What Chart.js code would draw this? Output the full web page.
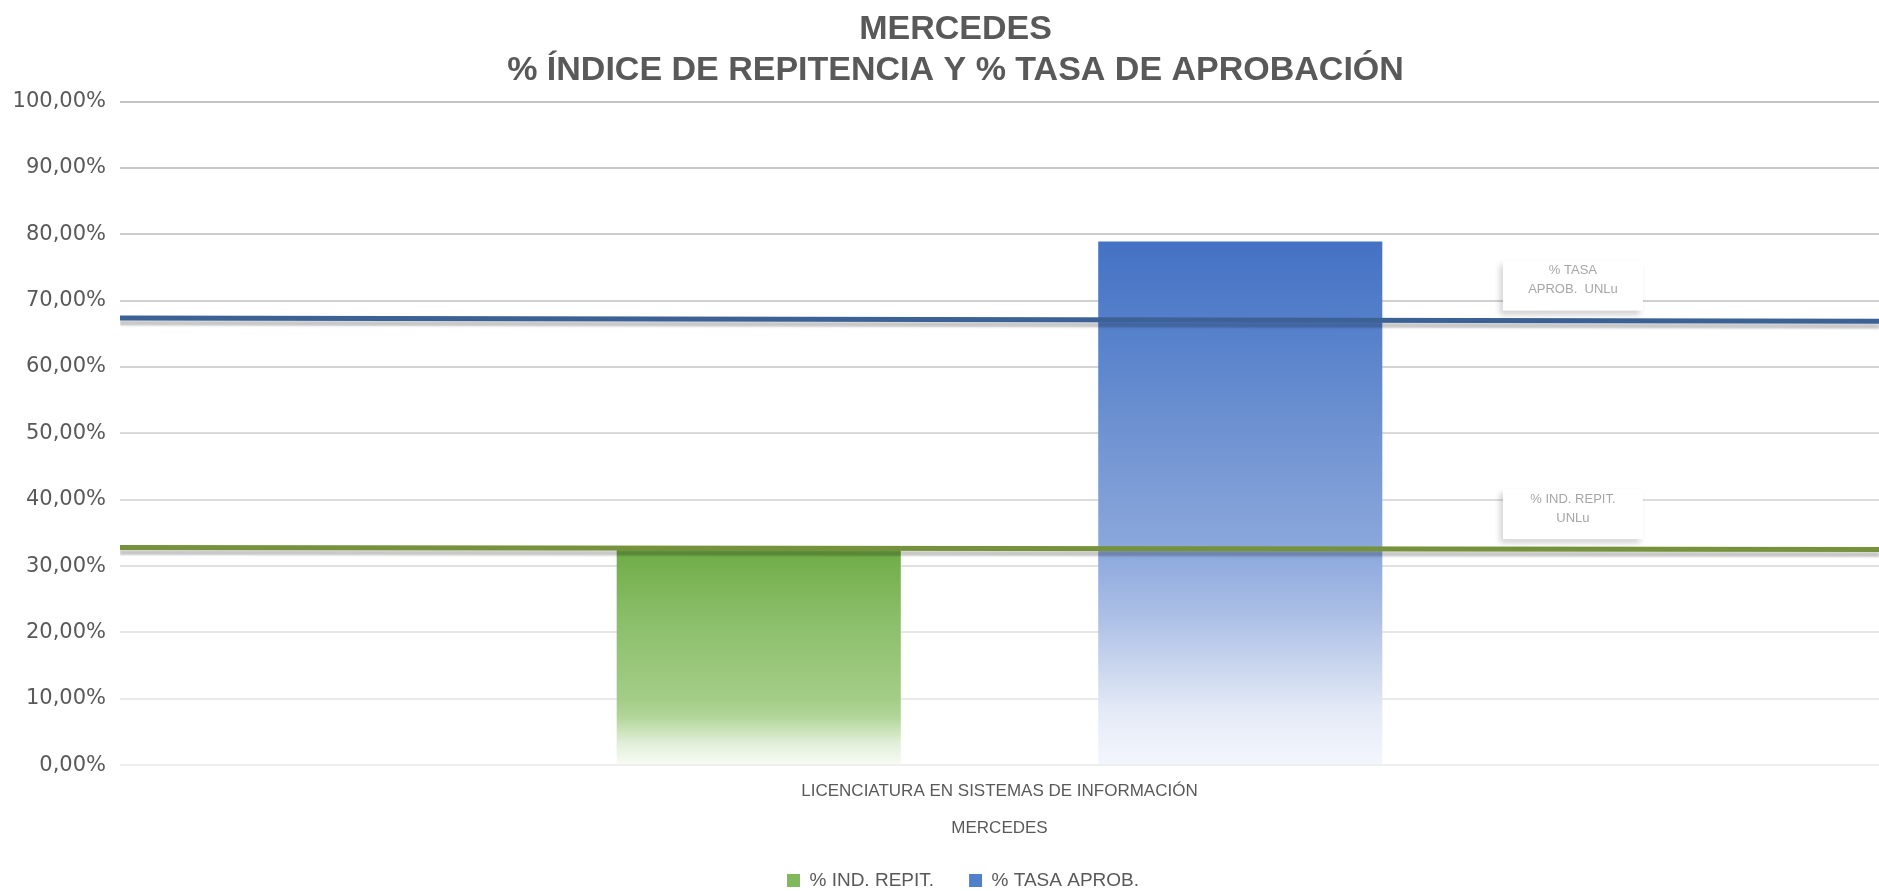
<!DOCTYPE html>
<html>
<head>
<meta charset="utf-8">
<script src="https://cdn.jsdelivr.net/npm/chart.js@4"></script>
<style>
  body { margin: 0; background: #ffffff; }
  #wrap { width: 1879px; height: 891px; }
</style>
</head>
<body>
<div id="wrap"><canvas id="chart" width="1879" height="891"></canvas></div>
<script>
const categories = ['LICENCIATURA EN SISTEMAS DE INFORMACIÓN'];
const seriesNames = ['% IND. REPIT.', '% TASA APROB.'];
const repitValues = [32.9];
const aprobValues = [78.9];
// reference lines (left end, right end)
const unluRepit = [32.8, 32.5];
const unluAprob = [67.4, 66.9];
const noteRepit = ['% IND. REPIT.', 'UNLu'];
const noteAprob = ['% TASA', 'APROB.  UNLu'];
const titleLines = ['MERCEDES', '% ÍNDICE DE REPITENCIA Y % TASA DE APROBACIÓN'];
const xTitle = 'MERCEDES';

const greenStops = [[0, '#f8fbf5'], [0.1, '#e2efd9'], [0.22, '#b2d69a'], [0.3, '#a3cd87'], [0.65, '#8cbf6b'], [1, '#6eab45']];
const blueStops = [[0, '#f3f6fc'], [0.1, '#e5ebf7'], [0.18, '#ccd8ef'], [0.28, '#adc0e6'], [0.4, '#8da9dd'], [0.6, '#7496d3'], [0.8, '#5983cc'], [1, '#4472c4']];

function barGradient(stops, solid) {
    return function(ctx) {
        const chart = ctx.chart;
        if (!chart.chartArea || ctx.raw === undefined) return solid;
        const y = chart.scales.y;
        const top = y.getPixelForValue(ctx.raw);
        const bottom = y.getPixelForValue(0);
        const g = chart.ctx.createLinearGradient(0, bottom, 0, top);
        stops.forEach(s => g.addColorStop(s[0], s[1]));
        return g;
    };
}

function lerpColor(a, b, t) {
    const pa = [1, 3, 5].map(i => parseInt(a.substr(i, 2), 16));
    const pb = [1, 3, 5].map(i => parseInt(b.substr(i, 2), 16));
    const c = pa.map((v, i) => Math.round(v + (pb[i] - v) * t));
    return 'rgb(' + c.join(',') + ')';
}

const decor = {
    id: 'decor',
    afterLayout(chart) {
        // title and legend sit a little right of the canvas centre in the original
        if (chart.titleBlock) chart.titleBlock.left = 32;
        if (chart.legend) chart.legend.left += 47;
    },
    beforeDatasetDraw(chart, args) {
        if (args.meta.type === 'line') {
            const c = chart.ctx;
            c.save();
            c.shadowColor = 'rgba(0,0,0,0.22)';
            c.shadowBlur = 2;
            c.shadowOffsetY = 5;
        }
    },
    afterDatasetDraw(chart, args) {
        if (args.meta.type === 'line') chart.ctx.restore();
    },
    afterDatasetsDraw(chart) {
        const c = chart.ctx;
        const area = chart.chartArea;
        const notes = [[0, noteAprob], [1, noteRepit]];
        const cx = area.left + (area.right - area.left) * 0.826;
        notes.forEach(([dsIndex, lines]) => {
            const pts = chart.getDatasetMeta(dsIndex).data;
            const t = (cx - pts[0].x) / (pts[1].x - pts[0].x);
            const lineY = pts[0].y + (pts[1].y - pts[0].y) * t;
            const w = 140, h = 50;
            const bottom = lineY - 10;
            c.save();
            c.shadowColor = 'rgba(0,0,0,0.18)';
            c.shadowBlur = 6;
            c.shadowOffsetX = -3;
            c.shadowOffsetY = 4;
            c.fillStyle = '#ffffff';
            c.fillRect(cx - w / 2, bottom - h, w, h);
            c.restore();
            c.save();
            c.fillStyle = '#a6a6a6';
            c.font = '13px "Liberation Sans", Arial, sans-serif';
            c.textAlign = 'center';
            c.textBaseline = 'middle';
            c.fillText(lines[0], cx, bottom - h + 10);
            c.fillText(lines[1], cx, bottom - h + 29);
            c.restore();
        });
    }
};

new Chart(document.getElementById('chart'), {
    type: 'bar',
    data: {
        labels: categories,
        datasets: [
            {
                type: 'line',
                label: 'UNLu aprob',
                xAxisID: 'x2',
                data: unluAprob.map((v, i) => ({x: i, y: v})),
                borderColor: '#3b6195',
                borderWidth: 5,
                pointRadius: 0,
                fill: false,
                order: 0
            },
            {
                type: 'line',
                label: 'UNLu repit',
                xAxisID: 'x2',
                data: unluRepit.map((v, i) => ({x: i, y: v})),
                borderColor: '#76923c',
                borderWidth: 5,
                pointRadius: 0,
                fill: false,
                order: 0
            },
            {
                label: seriesNames[0],
                data: repitValues,
                backgroundColor: barGradient(greenStops, '#70ad47'),
                categoryPercentage: 1.095,
                barPercentage: 0.59,
                order: 1
            },
            {
                label: seriesNames[1],
                data: aprobValues,
                backgroundColor: barGradient(blueStops, '#4472c4'),
                categoryPercentage: 1.095,
                barPercentage: 0.59,
                order: 1
            }
        ]
    },
    options: {
        responsive: false,
        animation: false,
        devicePixelRatio: 1,
        layout: { padding: { left: 0, right: 0, top: 0, bottom: -9 } },
        plugins: {
            tooltip: { enabled: false },
            title: {
                display: true,
                text: titleLines,
                color: '#595959',
                font: { family: '"Liberation Sans", Arial, sans-serif', size: 34, weight: 'bold', lineHeight: 1.2 },
                padding: { top: 9, bottom: 11 }
            },
            legend: {
                position: 'bottom',
                labels: {
                    color: '#595959',
                    font: { family: '"Liberation Sans", Arial, sans-serif', size: 19 },
                    boxWidth: 13,
                    boxHeight: 13,
                    padding: 35,
                    generateLabels: () => seriesNames.map((name, i) => ({
                        text: name,
                        fillStyle: i === 0 ? '#80b95a' : '#5080cc',
                        strokeStyle: 'rgba(0,0,0,0)',
                        lineWidth: 0,
                        fontColor: '#595959',
                        datasetIndex: i + 2
                    }))
                }
            }
        },
        scales: {
            x: {
                grid: { display: false, drawTicks: false },
                border: { display: false },
                ticks: {
                    color: '#595959',
                    font: { family: '"Liberation Sans", Arial, sans-serif', size: 17 },
                    padding: 16
                },
                title: {
                    display: true,
                    text: xTitle,
                    color: '#595959',
                    font: { family: '"Liberation Sans", Arial, sans-serif', size: 17 },
                    padding: { top: 1, bottom: -3 }
                }
            },
            x2: {
                type: 'linear',
                display: false,
                offset: false,
                grid: { offset: false },
                min: 0,
                max: 1
            },
            y: {
                min: 0,
                max: 100,
                afterFit: scale => { scale.width = 120; },
                border: { display: false },
                grid: {
                    drawTicks: false,
                    lineWidth: 2,
                    color: ctx => lerpColor('#eeeeee', '#c4c4c4', (ctx.tick ? ctx.tick.value : 0) / 100)
                },
                ticks: {
                    stepSize: 10,
                    padding: 14,
                    color: '#595959',
                    font: { family: '"DejaVu Sans", Verdana, sans-serif', size: 21 },
                    callback: v => v.toFixed(2).replace('.', ',') + '%'
                }
            }
        }
    },
    plugins: [decor]
});
</script>
</body>
</html>
